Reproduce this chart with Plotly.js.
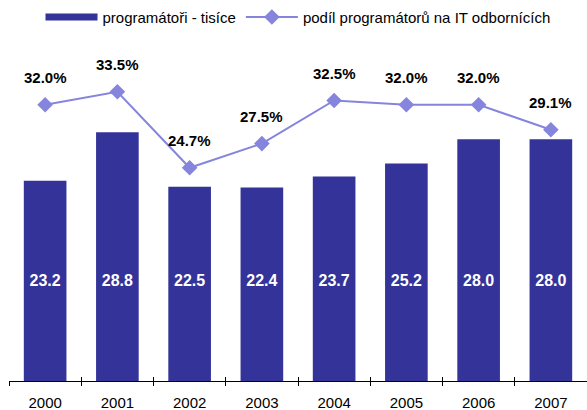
<!DOCTYPE html>
<html>
<head>
<meta charset="utf-8">
<script src="https://cdn.plot.ly/plotly-3.0.1.min.js"></script>
<style>
  html, body { margin: 0; padding: 0; background: white; }
  #chart { width: 587px; height: 410px; }
</style>
</head>
<body>
<div id="chart"></div>
<script>
// data
const years = ['2000', '2001', '2002', '2003', '2004', '2005', '2006', '2007'];
const programmers = [23.2, 28.8, 22.5, 22.4, 23.7, 25.2, 28.0, 28.0];   // tisíce
const share = [32.0, 33.5, 24.7, 27.5, 32.5, 32.0, 32.0, 29.1];         // %

const BAR_COLOR = '#333399';
const LINE_COLOR = '#8585dd';
const FONT = { family: '"Liberation Sans", Arial, sans-serif', color: '#000', size: 15 };
const LABEL_LEVEL = 11.5;   // bar labels sit at one common height

const traces = [
    // legend-only stand-in so the bar key is drawn as a wide band
    {
        type: 'scatter', mode: 'lines', x: years, y: years.map(() => null),
        name: 'programátoři - tisíce',
        line: { color: BAR_COLOR, width: 7 },
        hoverinfo: 'skip',
    },
    {
        type: 'bar', x: years, y: programmers,
        name: 'programátoři - tisíce',
        marker: { color: BAR_COLOR },
        showlegend: false, hoverinfo: 'skip',
    },
    {
        type: 'scatter', mode: 'lines+markers', x: years, y: share,
        name: 'podíl programátorů na IT odbornících',
        line: { color: LINE_COLOR, width: 2 },
        marker: { symbol: 'diamond', size: 12, color: LINE_COLOR },
        hoverinfo: 'skip',
    },
    {
        type: 'scatter', mode: 'text', x: years, y: years.map(() => LABEL_LEVEL),
        text: programmers.map(v => v.toFixed(1)),
        textfont: { family: FONT.family, size: 16, color: 'white', weight: 'bold' },
        showlegend: false, hoverinfo: 'skip',
    },
    // empty trace so the second x axis (inner tick halves) gets drawn
    {
        type: 'scatter', x: years, y: years.map(() => null), xaxis: 'x2',
        showlegend: false, hoverinfo: 'skip',
    },
];

// annotation x on a category axis is the category's serial number
const annotations = share.map((v, i) => ({
    x: i, y: v, xref: 'x', yref: 'y',
    text: '<b>' + v.toFixed(1) + '%</b>',
    showarrow: false, yshift: 27,
    font: { family: FONT.family, size: 15, color: '#000' },
}));

const layout = {
    width: 587, height: 410,
    paper_bgcolor: 'white', plot_bgcolor: 'white',
    font: FONT,
    margin: { l: 9, r: 0, t: 40, b: 29 },
    bargap: 0.41,
    showlegend: true,
    legend: {
        orientation: 'h', x: 0.5, xanchor: 'center', y: 1.115, yanchor: 'top',
        font: { family: FONT.family, size: 15, color: '#000' }, itemwidth: 52,
    },
    xaxis: {
        type: 'category', range: [-0.5, 7.5],
        showline: true, linecolor: '#000', linewidth: 1,
        ticks: 'outside', ticklen: 4, tickcolor: '#000', tickson: 'boundaries',
        ticklabelstandoff: 8,
        showgrid: false, zeroline: false,
        tickfont: { family: FONT.family, size: 15, color: '#000' },
    },
    xaxis2: {
        type: 'category', range: [-0.5, 7.5], overlaying: 'x', anchor: 'y', side: 'bottom',
        ticks: 'inside', ticklen: 4, tickcolor: '#000', tickson: 'boundaries',
        showticklabels: false, showline: false, showgrid: false, zeroline: false,
    },
    yaxis: {
        range: [0, 39.5], visible: false, showgrid: false, zeroline: false,
    },
    annotations,
};

Plotly.newPlot('chart', traces, layout, { displayModeBar: false, staticPlot: true });
</script>
</body>
</html>
